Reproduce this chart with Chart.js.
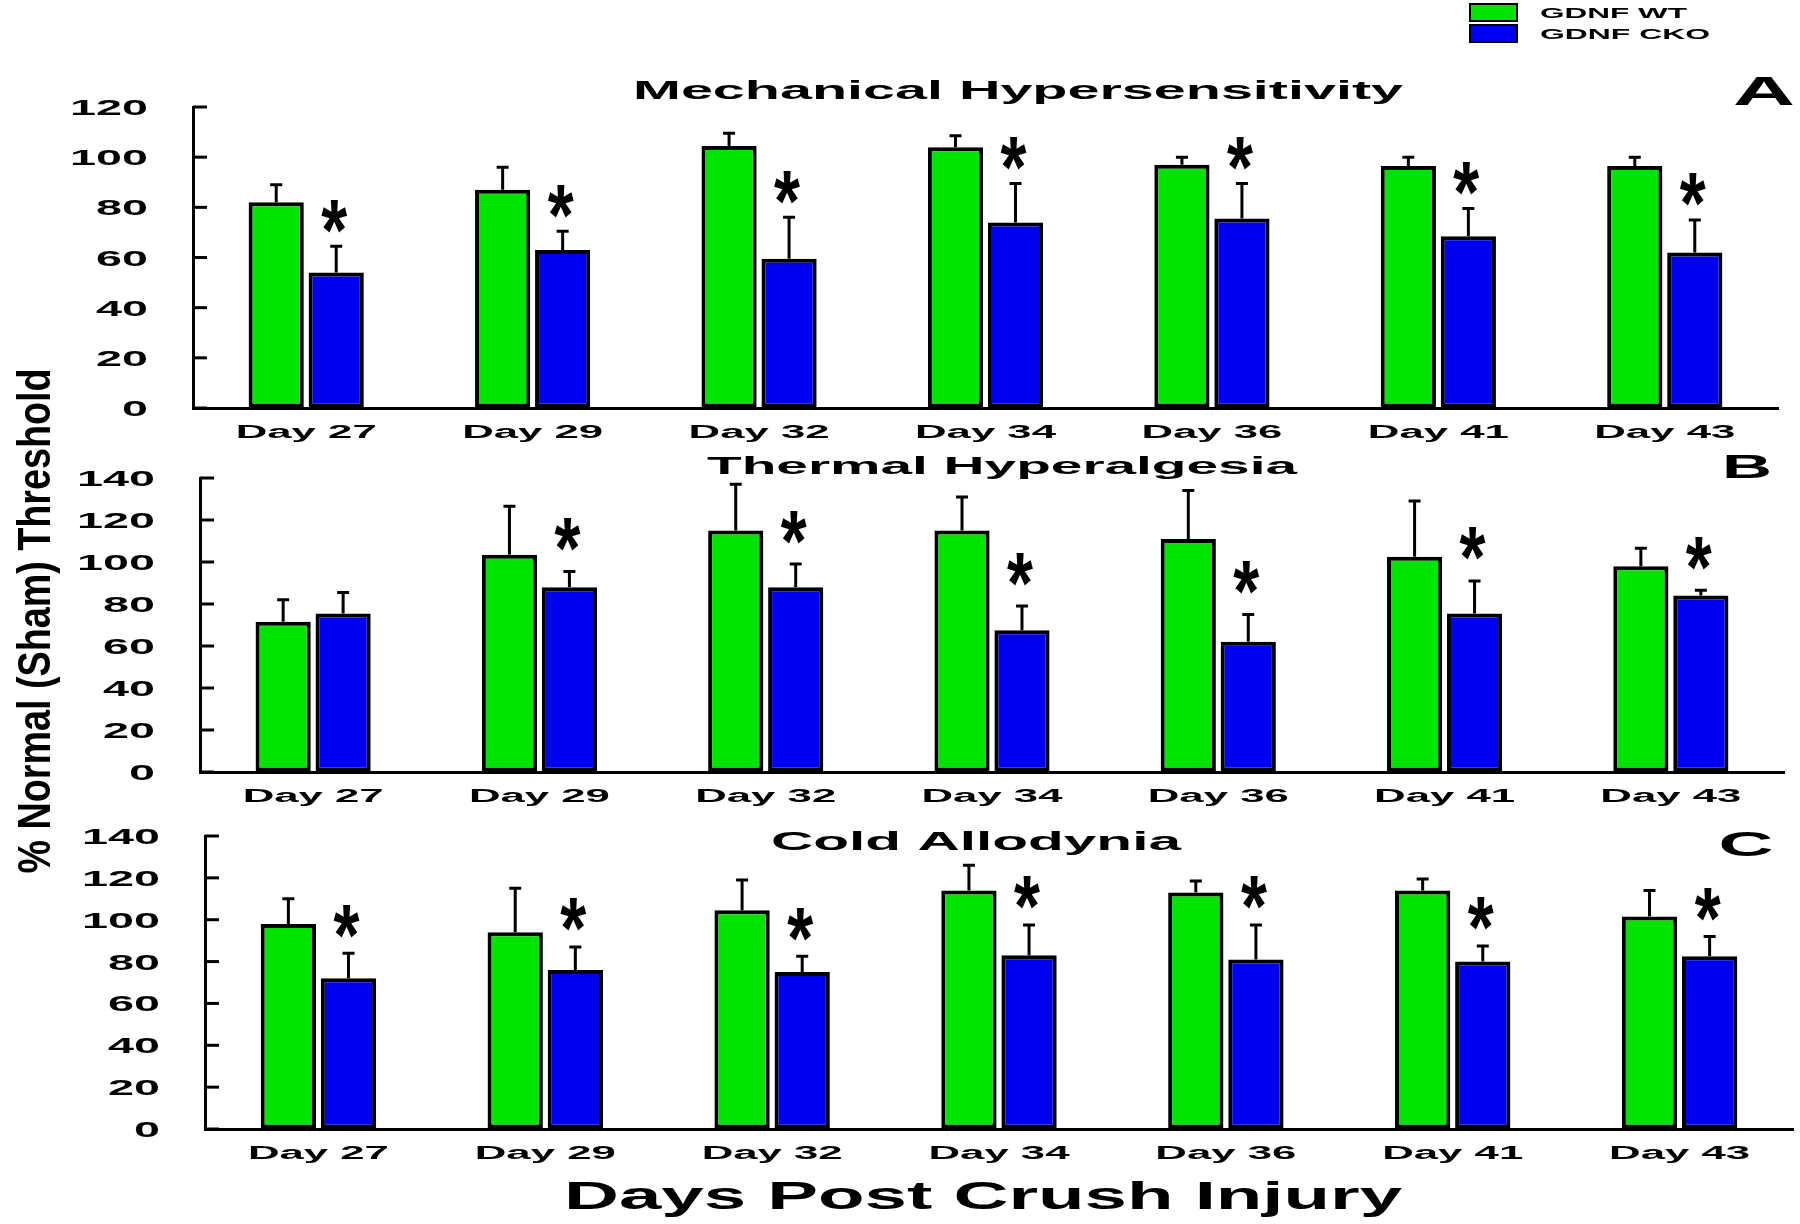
<!DOCTYPE html>
<html>
<head>
<meta charset="utf-8">
<title>GDNF WT vs GDNF CKO</title>
<script src="https://cdn.jsdelivr.net/npm/chart.js@4.4.1/dist/chart.umd.min.js"></script>
<style>
    html, body { margin: 0; padding: 0; background: #fff; }
    #wrap { position: relative; width: 1800px; height: 1224px; }
    #wrap canvas { position: absolute; left: 0; top: 0; }
</style>
</head>
<body>
<div id="wrap">
    <canvas id="panelA" width="1800" height="1224"></canvas>
    <canvas id="panelB" width="1800" height="1224"></canvas>
    <canvas id="panelC" width="1800" height="1224"></canvas>
</div>
<script>
// Kategorien und Achsenbeschriftungen
const days = ['Day 27', 'Day 29', 'Day 32', 'Day 34', 'Day 36', 'Day 41', 'Day 43'];
const ticksA = [0, 20, 40, 60, 80, 100, 120];
const ticksBC = [0, 20, 40, 60, 80, 100, 120, 140];

// A: Mechanical Hypersensitivity
const mechWT = [82, 87, 104.5, 104, 97, 96.5, 96.5];
const mechWTErr = [7, 9, 5, 4.5, 3, 3.5, 3.5];
const mechCKO = [54, 63, 59.5, 74, 75.5, 68.5, 62];
const mechCKOErr = [10.5, 7.5, 16.5, 15.5, 14, 11, 13];
const mechSig = [true, true, true, true, true, true, true];

// B: Thermal Hyperalgesia
const thermWT = [71.5, 103.5, 115, 115, 111, 102.5, 98];
const thermWTErr = [10.5, 23, 22, 16, 23, 26.5, 8.5];
const thermCKO = [75.5, 88, 88, 67.5, 62, 75.5, 84];
const thermCKOErr = [10, 7.5, 11, 11.5, 13, 15.5, 2.5];
const thermSig = [false, true, true, true, true, true, true];

// C: Cold Allodynia
const coldWT = [98, 94, 104.5, 114, 113, 114, 101.5];
const coldWTErr = [12, 21, 14.5, 12, 5.5, 5.5, 12.5];
const coldCKO = [72, 76, 75, 83, 81, 80, 82.5];
const coldCKOErr = [12, 11, 7.5, 14.5, 16.5, 7.5, 9.5];
const coldSig = [true, true, true, true, true, true, true];

const GREEN = '#00e300';
const BLUE = '#0000f0';
const FONT = '"Liberation Sans", Arial, sans-serif';

/**
 * Zeichnet Text, horizontal gestreckt auf eine Zielbreite
 */
function fitText(ctx, text, x, y, size, width, align = 'center') {
    ctx.save();
    ctx.font = `bold ${size}px ${FONT}`;
    const w = ctx.measureText(text).width;
    ctx.translate(x, y);
    ctx.scale(width / w, 1);
    ctx.textAlign = align;
    ctx.textBaseline = 'alphabetic';
    ctx.fillText(text, 0, 0);
    ctx.restore();
}

/**
 * Zeichnet Text mit festem Streckfaktor
 */
function stretchText(ctx, text, x, y, size, sx, align = 'center') {
    ctx.save();
    ctx.font = `bold ${size}px ${FONT}`;
    ctx.translate(x, y);
    ctx.scale(sx, 1);
    ctx.textAlign = align;
    ctx.textBaseline = 'alphabetic';
    ctx.fillText(text, 0, 0);
    ctx.restore();
}

/**
 * Sternchen (Signifikanz) mit vorgegebener Tintenbreite/-höhe zentriert zeichnen
 */
function drawStar(ctx, cx, cy, w, h) {
    ctx.save();
    ctx.font = `bold 100px ${FONT}`;
    const m = ctx.measureText('*');
    const inkW = m.actualBoundingBoxLeft + m.actualBoundingBoxRight;
    const inkH = m.actualBoundingBoxAscent + m.actualBoundingBoxDescent;
    const offX = (m.actualBoundingBoxRight - m.actualBoundingBoxLeft) / 2;
    const offY = (m.actualBoundingBoxDescent - m.actualBoundingBoxAscent) / 2;
    ctx.translate(cx, cy);
    ctx.scale(w / inkW, h / inkH);
    ctx.textAlign = 'left';
    ctx.textBaseline = 'alphabetic';
    ctx.fillText('*', -offX, -offY);
    ctx.restore();
}

/**
 * Plugin für Fehlerbalken, Sternchen, Achsenbeschriftungen und Titel eines Panels
 */
function makeDecor(panel) {
    return {
        id: 'decor' + panel.letter,
        afterDatasetsDraw(chart) {
            const ctx = chart.ctx;
            const xs = chart.scales.x;
            const ys = chart.scales.y;
            const area = chart.chartArea;
            ctx.save();
            ctx.strokeStyle = '#000';
            ctx.fillStyle = '#000';
            ctx.lineWidth = 3;
            ctx.lineCap = 'butt';

            // Fehlerbalken (nur nach oben)
            panel.errors.forEach((errs, di) => {
                const meta = chart.getDatasetMeta(di);
                const vals = chart.data.datasets[di].data;
                meta.data.forEach((bar, j) => {
                    const top = ys.getPixelForValue(vals[j] + errs[j]);
                    ctx.beginPath();
                    ctx.moveTo(bar.x, bar.y);
                    ctx.lineTo(bar.x, top);
                    ctx.moveTo(bar.x - 6, top);
                    ctx.lineTo(bar.x + 6, top);
                    ctx.stroke();
                });
            });

            // Sternchen über CKO
            const ckoMeta = chart.getDatasetMeta(1);
            const ckoVals = chart.data.datasets[1].data;
            panel.sig.forEach((s, j) => {
                if (!s) return;
                const top = ys.getPixelForValue(ckoVals[j] + panel.errors[1][j]);
                drawStar(ctx, ckoMeta.data[j].x - 2, top - panel.starGap, 26, 33);
            });

            // Y-Ticks nach innen + Beschriftung
            panel.ticks.forEach(v => {
                const py = ys.getPixelForValue(v);
                ctx.beginPath();
                ctx.moveTo(area.left, py);
                ctx.lineTo(area.left + 14, py);
                ctx.stroke();
                const label = String(v);
                fitText(ctx, label, area.left - 45, py + 8, 22, label.length * 26, 'right');
            });

            // X-Beschriftungen
            ctx.font = `bold 18px ${FONT}`;
            const sx = 141 / ctx.measureText('Day 27').width;
            days.forEach((d, i) => {
                stretchText(ctx, d, xs.getPixelForValue(i), area.bottom + 30, 18, sx);
            });

            // Titel und Buchstabe
            fitText(ctx, panel.title, panel.titleX, panel.titleY, panel.titleSize, panel.titleW);
            fitText(ctx, panel.letter, panel.letterX, panel.letterY, panel.letterSize, panel.letterW);

            if (panel.extra) panel.extra(ctx);
            ctx.restore();
        }
    };
}

// Legende und Achsentitel
function drawCommon(ctx) {
    ctx.lineWidth = 2;
    ctx.fillStyle = GREEN;
    ctx.fillRect(1470, 4, 47, 17);
    ctx.strokeRect(1470, 4, 47, 17);
    ctx.fillStyle = BLUE;
    ctx.fillRect(1470, 25, 47, 17);
    ctx.strokeRect(1470, 25, 47, 17);
    ctx.fillStyle = '#000';
    fitText(ctx, 'GDNF WT', 1540, 18, 14, 147, 'left');
    fitText(ctx, 'GDNF CKO', 1540, 39, 14, 170, 'left');

    fitText(ctx, 'Days Post Crush Injury', 983, 1209, 38, 838);

    ctx.save();
    ctx.translate(50, 621);
    ctx.rotate(-Math.PI / 2);
    fitText(ctx, '% Normal (Sham) Threshold', 0, 0, 47, 505);
    ctx.restore();
}

function createPanel(canvasId, wt, wtErr, cko, ckoErr, panel) {
    const ctx = document.getElementById(canvasId).getContext('2d');
    panel.errors = [wtErr, ckoErr];
    new Chart(ctx, {
        type: 'bar',
        data: {
            labels: days,
            datasets: [
                { label: 'GDNF WT', data: wt, backgroundColor: GREEN },
                { label: 'GDNF CKO', data: cko, backgroundColor: BLUE }
            ]
        },
        options: {
            responsive: false,
            animation: false,
            events: [],
            layout: { padding: panel.padding },
            datasets: {
                bar: {
                    borderColor: '#000',
                    borderWidth: 4,
                    borderSkipped: false,
                    categoryPercentage: 0.53,
                    barPercentage: 0.92
                }
            },
            plugins: {
                legend: { display: false },
                tooltip: { enabled: false },
                title: { display: false }
            },
            scales: {
                x: {
                    ticks: { display: false },
                    grid: { display: true, drawOnChartArea: false, drawTicks: false },
                    border: { display: true, color: '#000', width: 3 }
                },
                y: {
                    min: 0,
                    max: panel.ticks[panel.ticks.length - 1],
                    ticks: { display: false, stepSize: 20 },
                    grid: { display: true, drawOnChartArea: false, drawTicks: false },
                    border: { display: true, color: '#000', width: 3 }
                }
            }
        },
        plugins: [makeDecor(panel)]
    });
}

createPanel('panelA', mechWT, mechWTErr, mechCKO, mechCKOErr, {
    letter: 'A', title: 'Mechanical Hypersensitivity', ticks: ticksA, sig: mechSig,
    padding: { left: 193, right: 22, top: 107, bottom: 816 },
    titleX: 1018, titleY: 99, titleSize: 25, titleW: 770,
    letterX: 1764, letterY: 105, letterSize: 40, letterW: 62,
    starGap: 30, extra: drawCommon
});

createPanel('panelB', thermWT, thermWTErr, thermCKO, thermCKOErr, {
    letter: 'B', title: 'Thermal Hyperalgesia', ticks: ticksBC, sig: thermSig,
    padding: { left: 200, right: 16, top: 478, bottom: 452 },
    titleX: 1002, titleY: 474, titleSize: 23, titleW: 590,
    letterX: 1747, letterY: 478, letterSize: 34, letterW: 50,
    starGap: 37
});

createPanel('panelC', coldWT, coldWTErr, coldCKO, coldCKOErr, {
    letter: 'C', title: 'Cold Allodynia', ticks: ticksBC, sig: coldSig,
    padding: { left: 205, right: 7, top: 836, bottom: 95 },
    titleX: 976, titleY: 850, titleSize: 25, titleW: 410,
    letterX: 1746, letterY: 856, letterSize: 35, letterW: 55,
    starGap: 32
});
</script>
</body>
</html>
